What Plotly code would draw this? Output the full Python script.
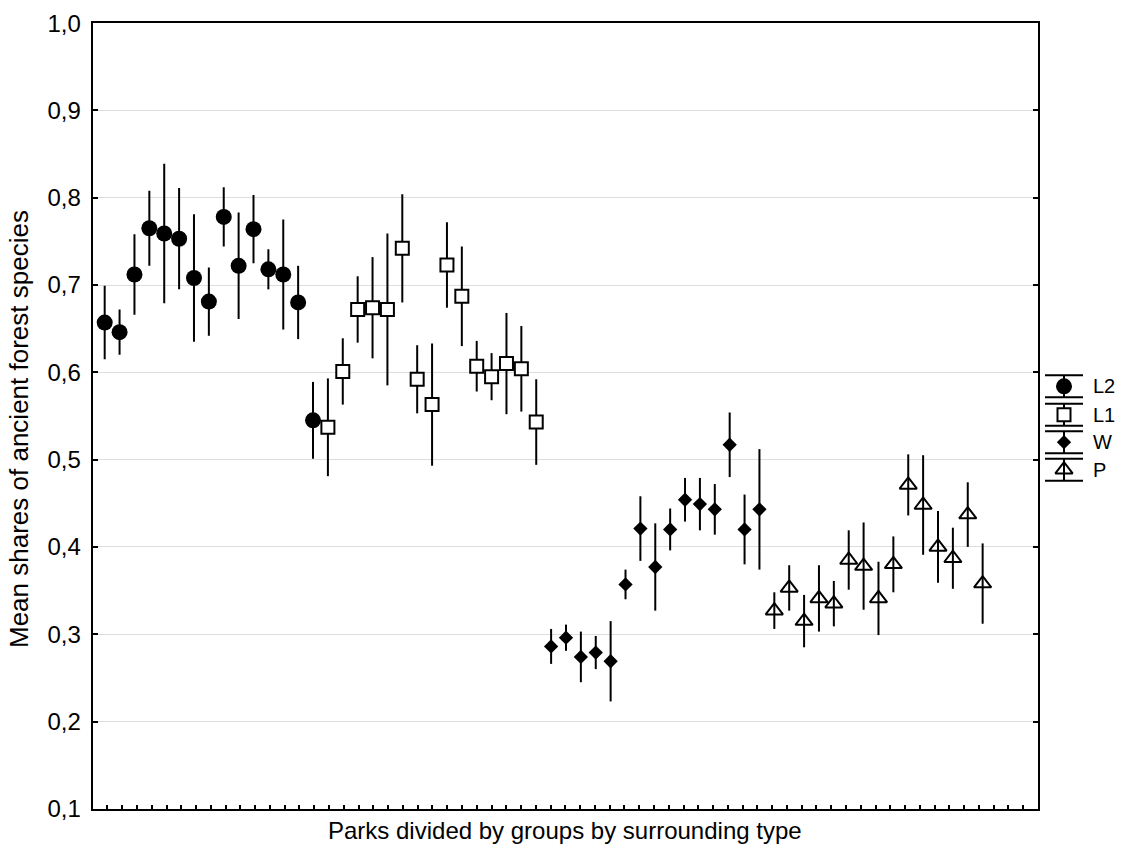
import numpy as np
import plotly.graph_objects as go

# ---------------- data ----------------
groups = ["L2", "L1", "W", "P"]

l2_mean = [0.657, 0.646, 0.712, 0.765, 0.759, 0.753, 0.708, 0.681, 0.778, 0.722, 0.764, 0.718, 0.712, 0.680, 0.545]
l2_err = [0.042, 0.026, 0.046, 0.043, 0.080, 0.058, 0.073, 0.039, 0.034, 0.061, 0.039, 0.023, 0.063, 0.042, 0.044]

l1_mean = [0.537, 0.601, 0.672, 0.674, 0.672, 0.742, 0.592, 0.563, 0.723, 0.687, 0.607, 0.595, 0.610, 0.604, 0.543]
l1_err = [0.056, 0.038, 0.038, 0.058, 0.087, 0.062, 0.039, 0.070, 0.049, 0.057, 0.029, 0.027, 0.058, 0.049, 0.049]

w_mean = [0.286, 0.296, 0.274, 0.279, 0.269, 0.357, 0.421, 0.377, 0.420, 0.454, 0.449, 0.443, 0.517, 0.420, 0.443]
w_err = [0.020, 0.015, 0.029, 0.019, 0.046, 0.017, 0.037, 0.050, 0.024, 0.025, 0.030, 0.029, 0.037, 0.040, 0.069]

p_mean = [0.327, 0.353, 0.315, 0.341, 0.335, 0.385, 0.378, 0.341, 0.380, 0.471, 0.448, 0.400, 0.387, 0.437, 0.358]
p_err = [0.021, 0.026, 0.030, 0.038, 0.026, 0.034, 0.050, 0.042, 0.032, 0.035, 0.057, 0.041, 0.035, 0.037, 0.046]

y_tick_values = [0.1, 0.2, 0.3, 0.4, 0.5, 0.6, 0.7, 0.8, 0.9, 1.0]
y_tick_labels = ["0,1", "0,2", "0,3", "0,4", "0,5", "0,6", "0,7", "0,8", "0,9", "1,0"]

x_title = "Parks divided by groups by surrounding type"
y_title = "Mean shares of ancient forest species"

# ---------------- styling ----------------
W, H = 1123, 846
FONT = "Arial, Liberation Sans, sans-serif"
px_left, px_right, px_top, px_bottom = 92.7, 1038.0, 23.1, 808.8

styles = {
    "L2": dict(symbol="circle", size=16, color="black", line=dict(color="black", width=0)),
    "L1": dict(symbol="square", size=13, color="white", line=dict(color="black", width=2)),
    "W": dict(symbol="diamond", size=11, color="black", line=dict(color="black", width=0)),
    "P": dict(symbol="triangle-up-open", size=15, color="black", line=dict(color="black", width=2)),
}

series = {"L2": (l2_mean, l2_err), "L1": (l1_mean, l1_err), "W": (w_mean, w_err), "P": (p_mean, p_err)}

fig = go.Figure()
start = 1
for g in groups:
    means, errs = series[g]
    xs = list(range(start, start + len(means)))
    start += len(means)
    fig.add_trace(go.Scatter(
        x=xs, y=means, mode="markers", name=g, showlegend=False,
        marker=styles[g],
        error_y=dict(type="data", array=errs, visible=True, color="black", thickness=2, width=0),
        xaxis="x", yaxis="y",
    ))

# custom legend (marker with capped bar), drawn on a pixel-space helper axis
leg_cx = 1064
leg_cy = [386.3, 414.8, 442.2, 469.7]
for g, cy in zip(groups, leg_cy):
    fig.add_trace(go.Scatter(
        x=[leg_cx], y=[cy], mode="markers", showlegend=False, hoverinfo="skip",
        marker=styles[g],
        error_y=dict(type="constant", value=11, visible=True, color="black", thickness=2, width=19),
        xaxis="x2", yaxis="y2", cliponaxis=False,
    ))
    fig.add_annotation(x=1091 / W, y=1 - cy / H, xref="paper", yref="paper", text=g,
                       showarrow=False, xanchor="left", yanchor="middle",
                       font=dict(family=FONT, size=20, color="black"))

x_min, x_max = 0.194, 63.72
x_ticks = list(np.linspace(x_min, x_max, 65)[1:-1])

fig.update_layout(
    width=W, height=H,
    margin=dict(l=0, r=0, t=0, b=0, autoexpand=False),
    paper_bgcolor="white", plot_bgcolor="rgba(0,0,0,0)",
    font=dict(family=FONT, color="black"),
    xaxis=dict(domain=[px_left / W, px_right / W], range=[x_min, x_max], automargin=False,
               showgrid=False, zeroline=False, showline=True, linecolor="black", linewidth=2,
               mirror=True, ticks="inside", ticklen=4, tickwidth=1.5, tickcolor="black",
               tickvals=x_ticks, showticklabels=False, anchor="y"),
    yaxis=dict(domain=[1 - px_bottom / H, 1 - px_top / H], range=[0.1, 1.0], automargin=False,
               showgrid=True, gridcolor="#dddddd", gridwidth=1, zeroline=False,
               showline=True, linecolor="black", linewidth=2, mirror="ticks",
               ticks="inside", ticklen=5, tickwidth=1.5, tickcolor="black",
               tickvals=y_tick_values, ticktext=y_tick_labels,
               tickfont=dict(family=FONT, size=24, color="black"), ticklabelstandoff=5,
               anchor="x"),
    xaxis2=dict(domain=[0, 1], range=[0, W], visible=False, anchor="y2", fixedrange=True, automargin=False),
    yaxis2=dict(domain=[0, 1], range=[H, 0], visible=False, anchor="x2", fixedrange=True, automargin=False),
    showlegend=False,
)

fig.add_annotation(x=19 / W, y=1 - 429 / H, xref="paper", yref="paper", text=y_title,
                   showarrow=False, textangle=-90, xanchor="center", yanchor="middle",
                   font=dict(family=FONT, size=26, color="black"))
fig.add_annotation(x=(px_left + px_right) / 2 / W, y=0, xref="paper", yref="paper", text=x_title,
                   showarrow=False, xanchor="center", yanchor="bottom",
                   font=dict(family=FONT, size=24, color="black"))

fig.write_html("out.html", config={"displayModeBar": False},
               post_script="document.body.style.margin='0';")
